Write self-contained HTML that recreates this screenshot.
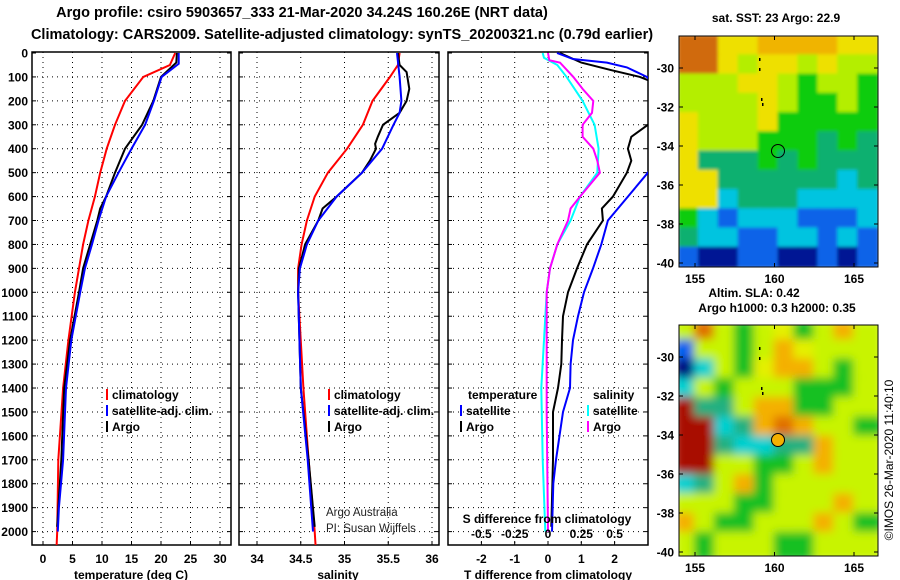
<!DOCTYPE html>
<html><head><meta charset="utf-8">
<style>
html,body{margin:0;padding:0;background:#fff;}
svg{display:block;font-family:"Liberation Sans",Arial,sans-serif;}
.b{font-weight:bold;font-size:12px;fill:#000;}
.t{font-weight:bold;font-size:14.5px;fill:#000;}
</style></head>
<body>
<svg id="c" width="900" height="580" viewBox="0 0 900 580">
<text class="t" x="302" y="17" text-anchor="middle">Argo profile: csiro 5903657_333 21-Mar-2020 34.24S 160.26E (NRT data)</text>
<text class="t" x="342" y="39" text-anchor="middle">Climatology: CARS2009. Satellite-adjusted climatology: synTS_20200321.nc (0.79d earlier)</text>
<g id="plots"></g>
<g id="maps"></g>
<text x="326" y="516" font-size="11.5" fill="#222">Argo Australia</text>
<text x="326" y="532" font-size="11.5" fill="#222">PI: Susan Wijffels</text>
<text x="893" y="460" font-size="12" fill="#000" text-anchor="middle" transform="rotate(-90 893 460)">©IMOS 26-Mar-2020 11:40:10</text>
</svg>
<script>
// ---- data ----
const depthTicks = [0,100,200,300,400,500,600,700,800,900,1000,1100,1200,1300,1400,1500,1600,1700,1800,1900,2000];
const tTicks = [0,5,10,15,20,25,30];
const sTicks = [34,34.5,35,35.5,36];
const sTickLabels = ["34","34.5","35","35.5","36"];
const dTTicks = [-2,-1,0,1,2];
const dSTickLabels = ["-0.5","-0.25","0","0.25","0.5"];

const climTDepth = [0,50,100,200,300,400,500,600,700,800,900,1000,1200,1400,1700,2000,2060];
const climT      = [22.4,21.5,17.0,13.9,12.2,10.8,9.7,8.8,7.7,6.8,6.1,5.4,4.3,3.4,2.6,2.4,2.3];
const satTDepth = [0,45,100,200,300,400,500,600,700,800,900,1000,1200,1400,1700,1900,2000];
const satT      = [23.0,23.0,20.1,18.8,17.3,15.0,12.8,10.7,9.4,8.3,7.1,6.3,4.8,3.9,3.4,2.7,2.5];
const argoTDepth = [0,40,100,200,300,400,500,600,650,700,800,900,1000,1200,1400,1700,1980];
const argoT      = [22.7,22.6,20.0,18.7,16.8,13.9,12.2,10.7,9.7,9.2,8.0,6.8,6.1,4.6,3.6,3.1,2.4];

const climSDepth = [0,50,100,200,300,400,500,600,700,800,900,1000,1400,1700,2000,2060];
const climS      = [35.63,35.61,35.52,35.32,35.21,35.03,34.81,34.66,34.57,34.51,34.47,34.47,34.53,34.59,34.66,34.67];
const satSDepth = [0,100,200,250,300,400,500,600,700,800,900,1000,1400,1700,2000];
const satS      = [35.60,35.63,35.65,35.63,35.56,35.43,35.20,34.91,34.70,34.57,34.49,34.47,34.50,34.58,34.64];
const argoSDepth = [0,50,80,150,200,250,300,350,380,400,450,500,600,650,700,800,900,1000,1400,1700,1980];
const argoS      = [35.61,35.63,35.71,35.74,35.71,35.63,35.44,35.38,35.35,35.36,35.29,35.20,34.91,34.75,34.70,34.55,34.48,34.47,34.50,34.59,34.66];

const dTsatDepth = [0,25,40,60,100,150,450,500,600,700,800,900,1000,1100,1200,1300,1400,1500,1700,1800,2000];
const dTsat      = [0.27,0.75,1.77,2.37,2.97,3.3,3.3,3.0,2.4,1.8,1.6,1.35,1.08,0.9,0.75,0.68,0.66,0.45,0.24,0.16,0.12];
const dTargoDepth = [0,40,70,100,130,280,300,350,400,450,500,600,650,700,800,900,1000,1100,1200,1300,1400,1500,1700,1980];
const dTargo      = [0.36,1.0,1.86,2.76,3.3,3.3,3.0,2.5,2.4,2.5,2.37,1.95,1.62,1.65,1.17,0.87,0.6,0.45,0.42,0.4,0.3,0.15,0.15,0.1];
const dSsatDepth = [0,20,50,100,200,300,400,500,600,700,800,900,1000,1400,1700,2000];
const dSsat      = [-0.04,-0.03,0.07,0.14,0.26,0.35,0.38,0.37,0.24,0.17,0.07,0.015,-0.01,-0.05,-0.04,-0.02];
const dSargoDepth = [0,30,40,100,150,200,250,300,350,400,450,500,600,650,700,800,900,1000,1500,2000];
const dSargo      = [0,0.01,0.09,0.19,0.26,0.34,0.33,0.26,0.26,0.34,0.37,0.39,0.24,0.17,0.15,0.07,0.015,-0.01,-0.01,0];

// ---- layout ----
const NS='http://www.w3.org/2000/svg';
const TOP=52, BOT=545;
const yD = d => 53 + d*0.2393;
const xT = t => 43 + t*5.9;
const xS = s => 257 + (s-34)*87.5;
const xDT = v => 548 + v*33.3;
const xDS = v => 548 + v*133.2;
const plots=document.getElementById('plots');
function el(tag,attrs,parent){const e=document.createElementNS(NS,tag);for(const k in attrs)e.setAttribute(k,attrs[k]);(parent||plots).appendChild(e);return e;}

const panels=[{x0:32,x1:231,name:'temperature-panel',grid:tTicks.map(xT)},
              {x0:239,x1:439,name:'salinity-panel',grid:sTicks.map(xS)},
              {x0:448,x1:648,name:'difference-panel',grid:dTTicks.map(xDT)}];
panels.forEach(p=>{
  const g=el('g',{});
  
  
  p.g=g;
  const cp=el('clipPath',{id:'cp-'+p.name},g);
  el('rect',{x:p.x0,y:TOP,width:p.x1-p.x0,height:BOT-TOP},cp);
  depthTicks.forEach(d=>{
    const y=yD(d);
    if(d>0){const l=el('line',{x1:p.x0,x2:p.x1,y1:y,y2:y,stroke:'#000','stroke-width':1,'stroke-dasharray':'1 4'},g);
    
    }
    el('line',{x1:p.x0,x2:p.x0+4,y1:y,y2:y,stroke:'#000'},g);
    el('line',{x1:p.x1-4,x2:p.x1,y1:y,y2:y,stroke:'#000'},g);
  });
  p.grid.forEach(x=>{
    el('line',{x1:x,x2:x,y1:TOP,y2:BOT,stroke:'#000','stroke-width':1,'stroke-dasharray':'1 4'},g);
    el('line',{x1:x,x2:x,y1:BOT-4,y2:BOT,stroke:'#000'},g);
  });
  el('rect',{x:p.x0,y:TOP,width:p.x1-p.x0,height:BOT-TOP,fill:'none',stroke:'#000','stroke-width':1.5},g);
});
depthTicks.forEach(d=>{
  const t=el('text',{x:28,y:yD(d)+4.5,'text-anchor':'end',class:'b'});
  t.textContent=d;
  
  
});
function xl(vals,labels,fx,y,name){vals.forEach((v,i)=>{const t=el('text',{x:fx(v),y:y,'text-anchor':'middle',class:'b'});t.textContent=labels[i];
  
  });}
xl(tTicks,tTicks.map(String),xT,563,'temperature-tick-label');
xl(sTicks,sTickLabels,xS,563,'salinity-tick-label');
xl(dTTicks,dTTicks.map(String),xDT,563,'t-diff-tick-label');
xl(dTTicks,dSTickLabels,xDT,538,'s-diff-tick-label');
function lab(x,y,s,name){const t=el('text',{x:x,y:y,'text-anchor':'middle',class:'b'});t.textContent=s;
  
  }
lab(131,579,'temperature (deg C)','x-axis-title-temperature');
lab(338,579,'salinity','x-axis-title-salinity');
lab(548,579,'T difference from climatology','x-axis-title-t-diff');
lab(547,523,'S difference from climatology','x-axis-title-s-diff');

function line(p,depths,vals,fx,color,name){
  const pts=depths.map((d,i)=>fx(vals[i]).toFixed(1)+','+yD(d).toFixed(1)).join(' ');
  const pl=el('polyline',{points:pts,fill:'none',stroke:color,'stroke-width':2,'clip-path':'url(#cp-'+p.name+')'},p.g);
  
  
}
line(panels[0],climTDepth,climT,xT,'#f00','climatology-temperature-line');
line(panels[0],argoTDepth,argoT,xT,'#000','argo-temperature-line');
line(panels[0],satTDepth,satT,xT,'#00f','satellite-temperature-line');
line(panels[1],climSDepth,climS,xS,'#f00','climatology-salinity-line');
line(panels[1],argoSDepth,argoS,xS,'#000','argo-salinity-line');
line(panels[1],satSDepth,satS,xS,'#00f','satellite-salinity-line');
line(panels[2],dTargoDepth,dTargo,xDT,'#000','argo-t-diff-line');
line(panels[2],dTsatDepth,dTsat,xDT,'#00f','satellite-t-diff-line');
line(panels[2],dSsatDepth,dSsat,xDS,'#0ff','satellite-s-diff-line');
line(panels[2],dSargoDepth,dSargo,xDS,'#f0f','argo-s-diff-line');

function leg(x,y,color,s,name){
  const g=el('g',{});
  
  
  el('rect',{x:x,y:y-10,width:2,height:11,fill:color},g);
  const t=el('text',{x:x+6,y:y,class:'b'},g);t.textContent=s;
}
leg(106,399,'#f00','climatology','legend-climatology-t');
leg(106,415,'#00f','satellite-adj. clim.','legend-satellite-t');
leg(106,431,'#000','Argo','legend-argo-t');
leg(328,399,'#f00','climatology','legend-climatology-s');
leg(328,415,'#00f','satellite-adj. clim.','legend-satellite-s');
leg(328,431,'#000','Argo','legend-argo-s');
(function(){const t=el('text',{x:468,y:399,class:'b'});t.textContent='temperature';


const u=el('text',{x:593,y:399,class:'b'});u.textContent='salinity';

})();
leg(460,415,'#00f','satellite','legend-satellite-dt');
leg(460,431,'#000','Argo','legend-argo-dt');
leg(587,415,'#0ff','satellite','legend-satellite-ds');
leg(587,431,'#f0f','Argo','legend-argo-ds');

// ---- maps ----
const maps=document.getElementById('maps');
const C1={O:'#d06a10',o:'#f0b400',Y:'#eee000',y:'#b4ee00',G:'#10cc10',g:'#10b070',c:'#00c4e0',b:'#1064e8',n:'#001494'};
const grid1=["OOYYooooYY","OOYyYYyYyy","yyyYYyGyyG","yyyyYyGGyG","YyyyYGGGGG","YyyyGGGgGg","YgggGgGggg","YYggggggcg","YYcgggcccc","Gcbcccbbbc","gccbbccbcb","bnnbbnnbnb"];
const C2={R:'#a80800',O:'#e07000',o:'#f4b000',Y:'#e4f000',y:'#c8f400',G:'#18c020',g:'#20b080',c:'#00d0d0',b:'#0060f0',n:'#001080'};
const grid2=["yOyGyYGyoy","byyGyoYyyy","ncyGYooyGy","cyGyyyGGGy","RggyooGGyy","RRcgoOoyyG","RRgccggoyy","RRyyGGyoyy","cgyoGyyyyy","yyyGGyyyoy","oyGGyyyoyG","yGyyyGGyyy"];
function map(y0,grid,cols,blur,name,marker){
  const g=document.createElementNS(NS,'g');maps.appendChild(g);
  
  
  const x0=679,w=199,h=231;
  const cp=el('clipPath',{id:'cp'+name},g);el('rect',{x:x0,y:y0,width:w,height:h},cp);
  const f=el('filter',{id:'f'+name,x:'-10%',y:'-10%',width:'120%',height:'120%'},g);el('feGaussianBlur',{stdDeviation:blur},f);
  const inner=el('g',{'clip-path':'url(#cp'+name+')'},g);
  const cells=el('g',{filter:'url(#f'+name+')'},inner);
  const cw=w/10,ch=h/12,pad=blur>2?5:1;
  grid.forEach((row,r)=>{[...row].forEach((k,c)=>{
    el('rect',{x:x0+c*cw-pad,y:y0+r*ch-pad,width:cw+2*pad,height:ch+2*pad,fill:cols[k]},cells);
  });});
  [[759,22],[759,32],[761,62],[762,67]].forEach(([x,dy])=>el('rect',{x:x,y:y0+dy,width:1.5,height:3,fill:'#000'},inner));
  el('circle',{cx:778,cy:y0+115,r:6.5,fill:marker,stroke:'#000','stroke-width':1},inner);
  el('rect',{x:x0,y:y0,width:w,height:h,fill:'none',stroke:'#000','stroke-width':1},g);
  const lats=[-30,-32,-34,-36,-38,-40];
  lats.forEach(l=>{const y=y0+32+(-30-l)*19.5;
    el('line',{x1:x0,x2:x0+4,y1:y,y2:y,stroke:'#000'},g);el('line',{x1:x0+w-4,x2:x0+w,y1:y,y2:y,stroke:'#000'},g);
    const t=el('text',{x:674,y:y+4.5,'text-anchor':'end',class:'b'},g);t.textContent=l;});
  [155,160,165].forEach((lo,i)=>{const x=695+i*79.5;
    el('line',{x1:x,x2:x,y1:y0,y2:y0+4,stroke:'#000'},g);el('line',{x1:x,x2:x,y1:y0+h-4,y2:y0+h,stroke:'#000'},g);
    const t=el('text',{x:x,y:y0+h+16,'text-anchor':'middle',class:'b'},g);t.textContent=lo;});
}
map(36,grid1,C1,1.5,'sst-map','none');
map(325,grid2,C2,4.5,'sla-map','#f4b000');
function mt(x,y,s,name){const t=el('text',{x:x,y:y,'text-anchor':'middle',class:'b'},maps);t.textContent=s;
  
  }
mt(776,22,'sat. SST: 23 Argo: 22.9','sst-map-title');
mt(754,297,'Altim. SLA: 0.42','sla-map-title');
mt(777,312,'Argo h1000: 0.3 h2000: 0.35','argo-height-title');
</script>
</body></html>
